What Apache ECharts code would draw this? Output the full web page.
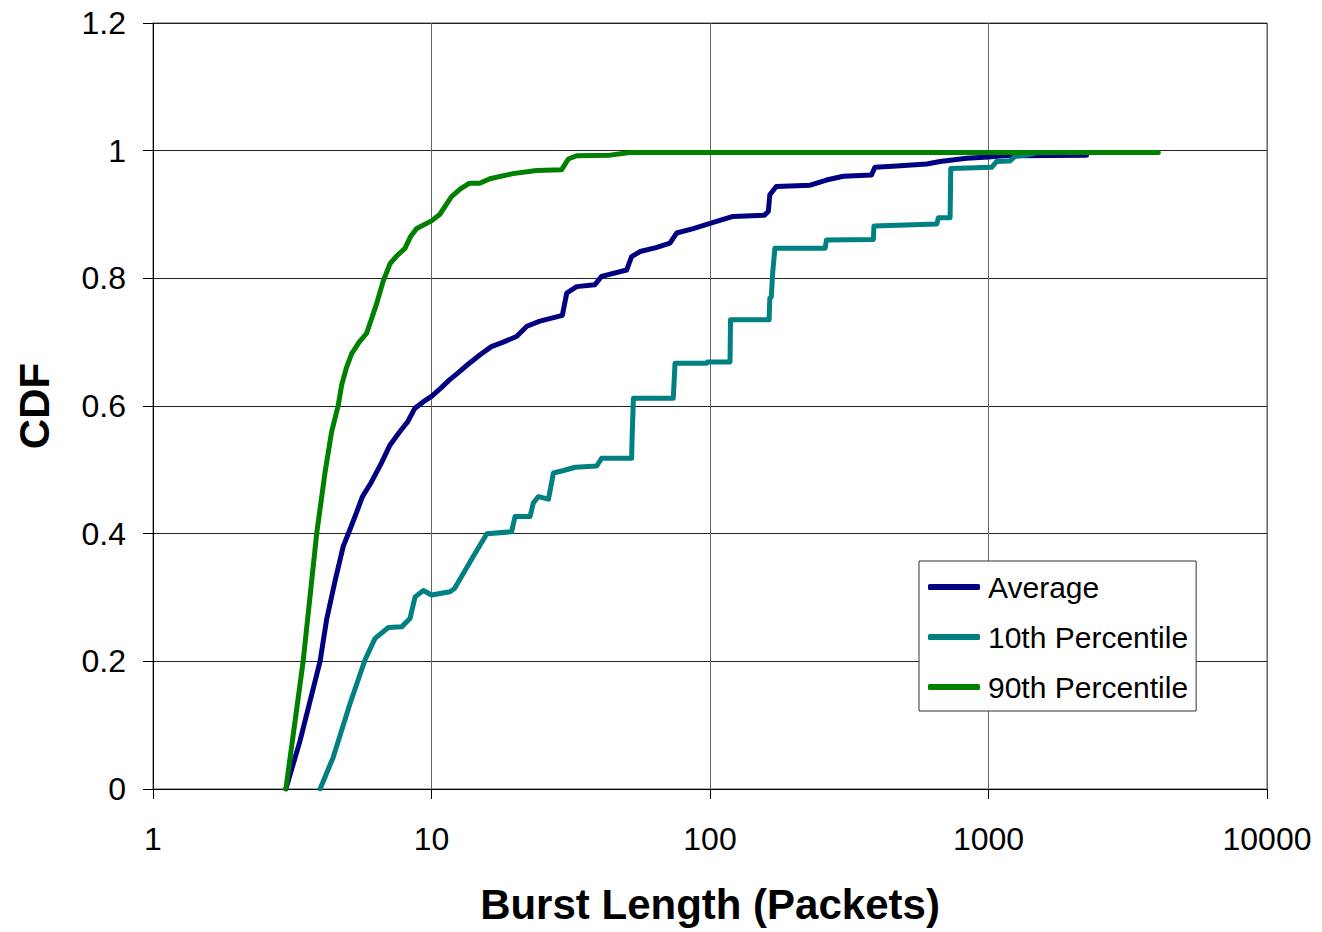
<!DOCTYPE html>
<html>
<head>
<meta charset="utf-8">
<script src="https://cdn.jsdelivr.net/npm/echarts@6/dist/echarts.min.js"></script>
<style>
  html, body { margin: 0; padding: 0; background: #fff; }
  #chart { width: 1322px; height: 932px; }
</style>
</head>
<body>
<div id="chart"></div>
<script>
// ---- data ----
const seriesNames = ['Average', '10th Percentile', '90th Percentile'];
const xTickLabels = ['1', '10', '100', '1000', '10000'];
const yTickLabels = ['0', '0.2', '0.4', '0.6', '0.8', '1', '1.2'];

const avgBurst = [3, 3.37, 3.98, 4.2, 4.5, 4.82, 5.08, 5.4, 5.65, 6.05, 6.6, 7.1, 7.7, 8.2, 8.7, 9.3, 10.0, 10.8, 11.6, 12.3, 13.5, 14.9, 16.4, 18.1, 20.2, 22.0, 24.5, 29.5, 30.6, 33.2, 38.6, 40.8, 50.2, 52.3, 56.1, 64, 71.8, 75.9, 87.1, 100, 121, 157, 162, 164, 173, 229, 262, 301, 380, 391, 468, 600, 670, 835, 1000, 1130, 2250];
const avgCdf   = [0, 0.075, 0.2, 0.265, 0.325, 0.38, 0.405, 0.435, 0.458, 0.479, 0.51, 0.539, 0.56, 0.575, 0.596, 0.606, 0.615, 0.628, 0.641, 0.65, 0.665, 0.68, 0.693, 0.70, 0.709, 0.725, 0.733, 0.742, 0.777, 0.787, 0.79, 0.803, 0.813, 0.834, 0.842, 0.848, 0.855, 0.871, 0.878, 0.886, 0.897, 0.899, 0.905, 0.931, 0.944, 0.946, 0.954, 0.960, 0.962, 0.974, 0.976, 0.979, 0.983, 0.988, 0.990, 0.992, 0.993];

const p10Burst = [3.98, 4.44, 5.10, 5.77, 6.27, 7.0, 7.81, 8.37, 8.73, 9.35, 10.0, 11.65, 12.1, 14.1, 15.8, 19.4, 19.95, 22.6, 23.2, 24.2, 26.3, 27.4, 29.8, 32.8, 39.2, 40.8, 52.3, 52.6, 53.1, 73.8, 74.9, 97.3, 98, 118, 118.5, 163, 164, 166, 168, 171, 259, 262, 386, 388, 652, 661, 728, 732, 1026, 1069, 1195, 1245, 1371, 1500];
const p10Cdf   = [0, 0.05, 0.134, 0.202, 0.236, 0.253, 0.254, 0.267, 0.301, 0.311, 0.304, 0.309, 0.314, 0.364, 0.40, 0.403, 0.427, 0.427, 0.448, 0.458, 0.454, 0.495, 0.499, 0.504, 0.506, 0.518, 0.518, 0.56, 0.612, 0.612, 0.667, 0.667, 0.669, 0.669, 0.735, 0.735, 0.769, 0.771, 0.81, 0.847, 0.847, 0.86, 0.861, 0.882, 0.885, 0.895, 0.895, 0.972, 0.974, 0.983, 0.984, 0.991, 0.993, 0.997];

const p90Burst = [3, 3.46, 3.87, 4.15, 4.38, 4.62, 4.76, 4.95, 5.17, 5.5, 5.85, 6.35, 6.7, 7.1, 7.5, 8.03, 8.4, 8.85, 10.0, 10.7, 11.8, 12.7, 13.7, 14.9, 16.2, 19.6, 23.8, 29.3, 31, 33.2, 43.8, 51.6, 4070];
const p90Cdf   = [0, 0.2, 0.4, 0.497, 0.56, 0.6, 0.633, 0.66, 0.682, 0.70, 0.714, 0.76, 0.795, 0.823, 0.835, 0.847, 0.865, 0.878, 0.89, 0.90, 0.928, 0.94, 0.949, 0.949, 0.956, 0.964, 0.969, 0.97, 0.987, 0.992, 0.993, 0.997, 0.997];

const colors = ['#000080', '#008080', '#008000'];

function zip(xs, ys) { return xs.map((x, i) => [x, ys[i]]); }

const font = '"Liberation Sans", Arial, sans-serif';
const chart = echarts.init(document.getElementById('chart'), null, { renderer: 'svg' });

const option = {
  animation: false,
  backgroundColor: '#ffffff',
  grid: {
    left: 153, top: 23, right: 55, bottom: 143,
    show: true, borderColor: '#555', borderWidth: 1,
    containLabel: false, outerBoundsMode: 'none'
  },
  legend: {
    orient: 'vertical',
    left: 919, top: 561,
    padding: [11, 8, 9, 9],
    itemWidth: 52, itemHeight: 6, itemGap: 20,
    icon: 'roundRect',
    borderColor: '#333', borderWidth: 1, backgroundColor: '#fff',
    textStyle: { fontSize: 30, lineHeight: 30, color: '#000', fontFamily: font, padding: [0, 0, 0, 3] },
    data: seriesNames
  },
  xAxis: {
    type: 'log', logBase: 10, min: 1, max: 10000, splitNumber: 4,
    axisLine: { show: true, onZero: false, lineStyle: { color: '#000', width: 1 } },
    axisTick: { show: true, length: 10, lineStyle: { color: '#000' } },
    minorTick: { show: false }, minorSplitLine: { show: false },
    axisLabel: {
      fontSize: 32, color: '#000', fontFamily: font, margin: 34,
      formatter: v => xTickLabels[Math.round(Math.log10(v))]
    },
    splitLine: { show: true, lineStyle: { color: '#666', width: 1 } },
    name: 'Burst Length (Packets)', nameLocation: 'middle', nameGap: 94,
    nameTextStyle: { fontSize: 42, fontWeight: 'bold', color: '#000', fontFamily: font }
  },
  yAxis: {
    type: 'value', min: 0, max: 1.2, interval: 0.2,
    axisLine: { show: true, lineStyle: { color: '#000', width: 1 } },
    axisTick: { show: true, length: 10, lineStyle: { color: '#000' } },
    axisLabel: {
      fontSize: 32, color: '#000', fontFamily: font, margin: 27,
      formatter: v => yTickLabels[Math.round(v / 0.2)]
    },
    splitLine: { show: true, lineStyle: { color: '#222', width: 1 } },
    name: 'CDF', nameLocation: 'middle', nameGap: 98, nameRotate: 90,
    nameTextStyle: { fontSize: 42, fontWeight: 'bold', color: '#000', fontFamily: font }
  },
  series: [
    { name: seriesNames[0], data: zip(avgBurst, avgCdf) },
    { name: seriesNames[1], data: zip(p10Burst, p10Cdf) },
    { name: seriesNames[2], data: zip(p90Burst, p90Cdf) }
  ].map((s, i) => Object.assign(s, {
    type: 'line', showSymbol: false, symbol: 'none',
    color: colors[i],
    lineStyle: { width: 5, color: colors[i], cap: 'round', join: 'round' },
    itemStyle: { color: colors[i] }
  }))
};

chart.setOption(option);
</script>
</body>
</html>
